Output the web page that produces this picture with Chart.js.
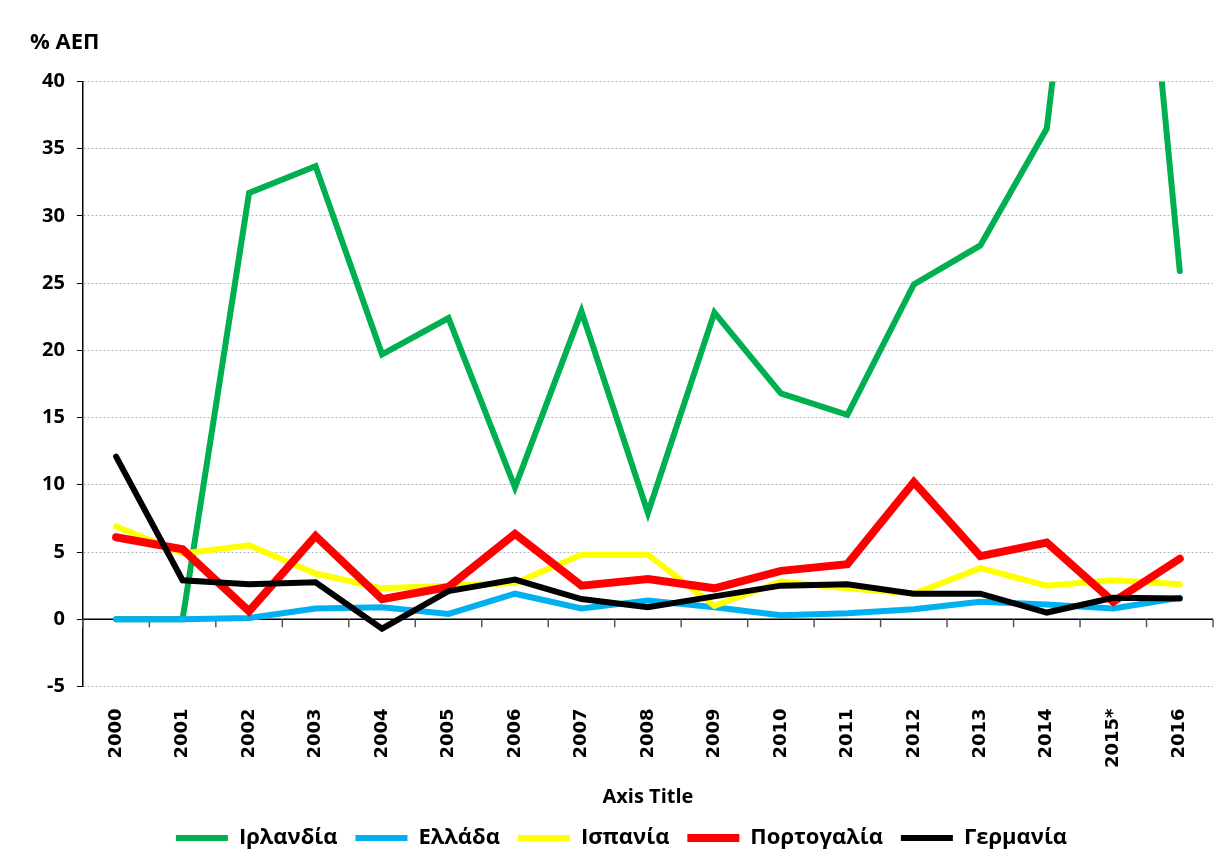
<!DOCTYPE html>
<html lang="el">
<head>
  <meta charset="UTF-8" />
  <title>% ΑΕΠ</title>
  <script src="https://cdn.jsdelivr.net/npm/chart.js"></script>
  <style>
    html, body {
      margin: 0;
      padding: 0;
      background: #ffffff;
    }
    #wrap {
      width: 1221px;
      height: 859px;
    }
  </style>
</head>
<body>
  <div id="wrap"><canvas id="chart"></canvas></div>

  <script>
    // data
    const years = ["2000", "2001", "2002", "2003", "2004", "2005", "2006", "2007", "2008",
                   "2009", "2010", "2011", "2012", "2013", "2014", "2015*", "2016"];

    const ireland  = [0, 0, 31.7, 33.7, 19.7, 22.4, 9.8, 22.9, 7.9, 22.8, 16.8, 15.2, 24.9, 27.8, 36.5, 78, 25.9];
    const greece   = [0, 0, 0.1, 0.8, 0.9, 0.4, 1.9, 0.8, 1.4, 0.9, 0.3, 0.45, 0.75, 1.3, 1.1, 0.8, 1.6];
    const spain    = [6.9, 4.9, 5.5, 3.4, 2.3, 2.5, 2.7, 4.8, 4.8, 1.0, 2.8, 2.3, 1.9, 3.8, 2.5, 2.9, 2.6];
    const portugal = [6.1, 5.2, 0.6, 6.2, 1.5, 2.4, 6.35, 2.5, 3.0, 2.3, 3.6, 4.1, 10.2, 4.7, 5.7, 1.3, 4.5];
    const germany  = [12.1, 2.9, 2.6, 2.75, -0.7, 2.1, 2.95, 1.5, 0.9, 1.7, 2.5, 2.6, 1.9, 1.9, 0.5, 1.6, 1.55];

    const seriesNames = ["Ιρλανδία", "Ελλάδα", "Ισπανία", "Πορτογαλία", "Γερμανία"];
    const yTicks = [-5, 0, 5, 10, 15, 20, 25, 30, 35, 40];

    const colors = ["#00B050", "#00B0F0", "#FFFF00", "#FF0000", "#000000"];
    const widths = [6, 6, 6, 8, 6];

    const seriesData = [ireland, greece, spain, portugal, germany];

    const datasets = seriesData.map((vals, i) => ({
      label: seriesNames[i],
      data: vals,
      borderColor: colors[i],
      backgroundColor: colors[i],
      borderWidth: widths[i],
      borderCapStyle: "round",
      borderJoinStyle: "miter",
      pointRadius: 0,
      pointHoverRadius: 0,
      tension: 0,
      clip: 0,
      order: seriesData.length - 1 - i  // later series drawn on top
    }));

    // horizontal axis line at zero with tick marks between categories
    const zeroAxis = {
      id: "zeroAxis",
      beforeDatasetsDraw(chart) {
        const { ctx, chartArea, scales } = chart;
        const y0 = scales.y.getPixelForValue(0);
        const step = scales.x.getPixelForValue(1) - scales.x.getPixelForValue(0);
        ctx.save();
        ctx.strokeStyle = "#000";
        ctx.lineWidth = 1.5;
        ctx.beginPath();
        ctx.moveTo(chartArea.left, y0);
        ctx.lineTo(chartArea.right, y0);
        ctx.stroke();
        ctx.strokeStyle = "#555";
        ctx.lineWidth = 1.5;
        for (let i = 0; i <= years.length; i++) {
          const x = scales.x.getPixelForValue(i) - step / 2;
          ctx.beginPath();
          ctx.moveTo(x, y0);
          ctx.lineTo(x, y0 + 8);
          ctx.stroke();
        }
        ctx.restore();
      }
    };

    new Chart(document.getElementById("chart"), {
      type: "line",
      data: { labels: years, datasets: datasets },
      plugins: [zeroAxis],
      options: {
        responsive: true,
        maintainAspectRatio: false,
        animation: false,
        layout: { padding: { left: 30, right: 8, top: 0, bottom: 0 } },
        plugins: {
          tooltip: { enabled: false },
          title: {
            display: true,
            text: "% ΑΕΠ",
            align: "start",
            color: "#000",
            font: { family: "Open Sans", size: 22, weight: "bold" },
            padding: { top: 30, bottom: 25 }
          },
          legend: {
            position: "bottom",
            labels: {
              sort: (a, b) => a.datasetIndex - b.datasetIndex,
              usePointStyle: true,
              pointStyle: "line",
              pointStyleWidth: 52,
              boxHeight: 6,
              padding: 18,
              color: "#000",
              font: { family: "Open Sans", size: 22, weight: "bold" }
            }
          }
        },
        scales: {
          x: {
            offset: true,
            grid: { display: false },
            border: { display: false },
            ticks: {
              minRotation: 90,
              maxRotation: 90,
              autoSkip: false,
              padding: 14,
              color: "#000",
              font: { family: "DejaVu Sans", size: 18, weight: "bold" }
            },
            title: {
              display: true,
              text: "Axis Title",
              color: "#000",
              font: { family: "Open Sans", size: 20, weight: "bold" },
              padding: { top: 3, bottom: 0 }
            }
          },
          y: {
            min: -5,
            max: 40,
            afterBuildTicks: (scale) => {
              scale.ticks = yTicks.map(v => ({ value: v }));
            },
            grid: {
              color: "#b8b8b8",
              lineWidth: 1,
              tickColor: "#000",
              tickLength: 6,
              tickBorderDash: []
            },
            border: {
              display: true,
              color: "#000",
              width: 1.5,
              dash: [2, 2]
            },
            ticks: {
              padding: 12,
              color: "#000",
              font: { family: "Open Sans", size: 20, weight: "bold" }
            }
          }
        }
      }
    });
  </script>
</body>
</html>
